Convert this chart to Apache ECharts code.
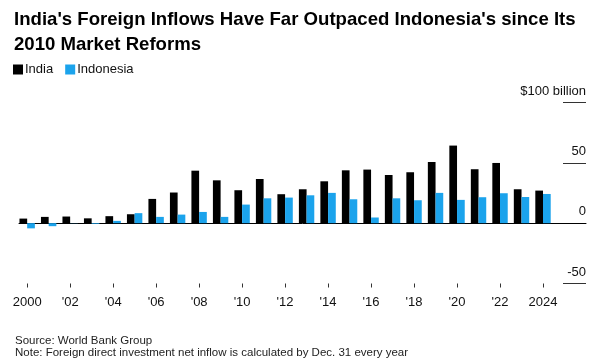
<!DOCTYPE html>
<html>
<head>
<meta charset="utf-8">
<script src="https://cdn.jsdelivr.net/npm/echarts@6/dist/echarts.min.js"></script>
<style>
html,body{margin:0;padding:0;background:#fff;}
#chart{width:600px;height:363px;}
</style>
</head>
<body>
<div id="chart"></div>
<script>
const years = [2000,2001,2002,2003,2004,2005,2006,2007,2008,2009,2010,2011,2012,2013,2014,2015,2016,2017,2018,2019,2020,2021,2022,2023,2024];
const india = [3.8,5.2,5.5,4.0,5.8,7.4,20.1,25.4,43.5,35.5,27.3,36.6,24.0,28.1,34.7,43.8,44.4,39.9,42.2,50.7,64.3,44.7,49.9,28.1,27.0];
const indonesia = [-4.3,-2.5,0.15,-0.6,1.9,8.3,5.2,7.1,9.3,5.2,15.4,20.6,21.2,23.1,25.1,19.8,4.7,20.6,19.0,25.1,19.3,21.5,24.8,21.7,24.2];
const tickYears = [2000,2002,2004,2006,2008,2010,2012,2014,2016,2018,2020,2022,2024];
const yTicks = [-50,0,50,100];

const FONT = '"Liberation Sans", Arial, sans-serif';
const chart = echarts.init(document.getElementById('chart'), null, {renderer:'canvas'});
const gridTop = 102.5, gridBottom = 79.5;
chart.setOption({
  animation:false,
  textStyle:{fontFamily:FONT},
  title:[{
    text:"India's Foreign Inflows Have Far Outpaced Indonesia's since Its\n2010 Market Reforms",
    left:9, top:2,
    textStyle:{fontFamily:FONT,fontWeight:'bold',fontSize:18.6,lineHeight:25,color:'#000'}
  },{
    text:'Source: World Bank Group\nNote: Foreign direct investment net inflow is calculated by Dec. 31 every year',
    left:10, top:330,
    textStyle:{fontFamily:FONT,fontWeight:'normal',fontSize:11.5,lineHeight:12,color:'#222'}
  }],
  legend:{
    left:8, top:58, itemWidth:10, itemHeight:10, itemGap:12,
    icon:'rect',
    textStyle:{fontFamily:FONT,fontSize:13,color:'#111',padding:[0,0,0,-3]},
    data:['India','Indonesia']
  },
  grid:[
    {left:19,right:14,top:gridTop,bottom:gridBottom},
    {left:563,right:14,top:gridTop,bottom:gridBottom}
  ],
  xAxis:[
    {type:'value',gridIndex:0,min:1999.62,max:2026,position:'bottom',
     axisLine:{show:true,onZero:true,lineStyle:{color:'#000',width:1}},
     axisTick:{show:false},axisLabel:{show:false},splitLine:{show:false}},
    {type:'value',gridIndex:0,min:1999.62,max:2026,position:'bottom',
     axisLine:{show:false,onZero:false},
     axisTick:{show:true,length:4,lineStyle:{color:'#333'},customValues:tickYears},
     axisLabel:{show:true,margin:12,fontSize:13,color:'#111',fontFamily:FONT,customValues:tickYears,
       formatter:function(v){return (v===2000||v===2024)?String(v):"'"+String(v).slice(2);}},
     splitLine:{show:false}},
    {type:'value',gridIndex:1,show:false,min:0,max:1}
  ],
  yAxis:[
    {type:'value',gridIndex:0,min:-50,max:100,interval:50,show:false},
    {type:'value',gridIndex:1,min:-50,max:100,interval:50,position:'right',
     axisLine:{show:false},axisTick:{show:false},
     splitLine:{show:true,lineStyle:{color:'#333',width:1}},
     axisLabel:{inside:true,margin:0,fontSize:13,color:'#111',fontFamily:FONT,
       align:'right',verticalAlign:'bottom',padding:[0,0,5,0],
       showMinLabel:true,showMaxLabel:true,
       formatter:function(v){return v===100?'$100 billion':String(v);}}}
  ],
  series:[
    {name:'India',type:'bar',xAxisIndex:0,yAxisIndex:0,barWidth:7.7,barGap:'0%',
     itemStyle:{color:'#000'},
     data:years.map((y,i)=>[y,india[i]])},
    {name:'Indonesia',type:'bar',xAxisIndex:0,yAxisIndex:0,barWidth:7.7,barGap:'0%',
     itemStyle:{color:'#1ba3ec'},
     data:years.map((y,i)=>[y,indonesia[i]])}
  ]
});
</script>
</body>
</html>
